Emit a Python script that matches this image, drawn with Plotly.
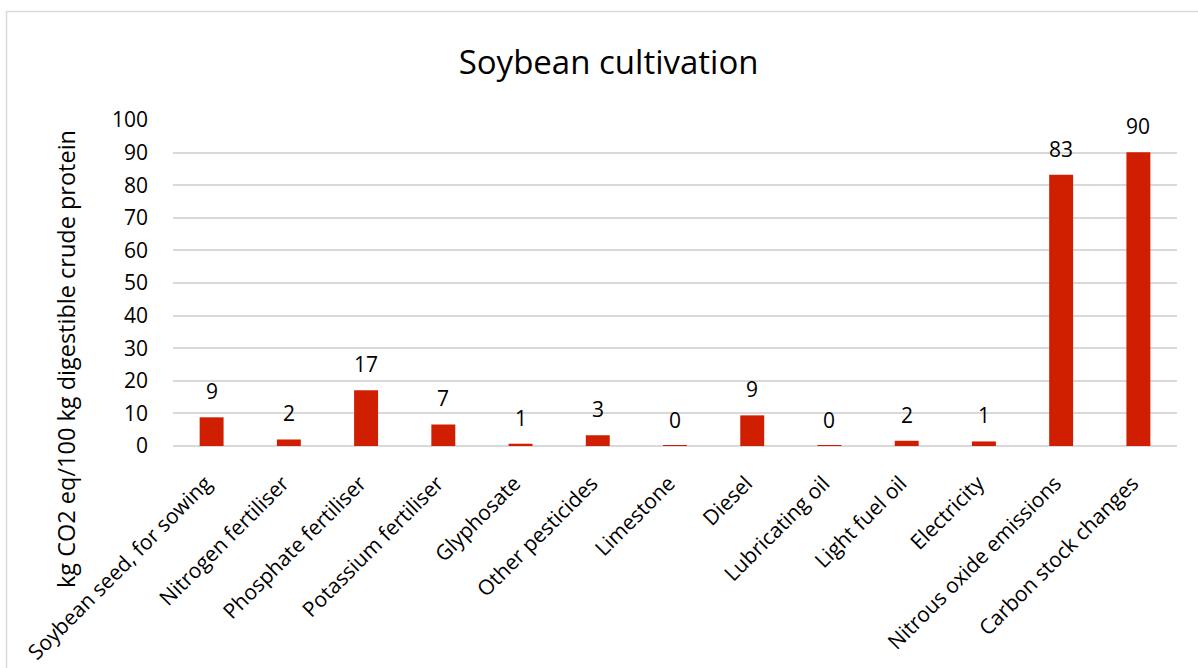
import plotly.graph_objects as go

# Emission sources for soybean cultivation
categories = [
    "Soybean seed, for sowing",
    "Nitrogen fertiliser",
    "Phosphate fertiliser",
    "Potassium fertiliser",
    "Glyphosate",
    "Other pesticides",
    "Limestone",
    "Diesel",
    "Lubricating oil",
    "Light fuel oil",
    "Electricity",
    "Nitrous oxide emissions",
    "Carbon stock changes",
]
# kg CO2 eq per 100 kg digestible crude protein
values = [8.8, 2.0, 17.1, 6.6, 0.7, 3.3, 0.1, 9.4, 0.1, 1.6, 1.4, 83.2, 90.1]
y_ticks = [0, 10, 20, 30, 40, 50, 60, 70, 80, 90, 100]

FONT = "Open Sans"
BAR = "#D01F00"
GRID = "#D9D9D9"

W, H = 1198, 668
ML, MR, MT, MB = 173, 21, 120, 222
PW, PH = W - ML - MR, H - MT - MB


def px_x(p):
    return (p - ML) / PW


def px_y(p):
    return (H - MB - p) / PH


fig = go.Figure(
    go.Bar(
        x=categories,
        y=values,
        marker=dict(color=BAR, line=dict(width=0)),
        hovertemplate="%{x}: %{y}<extra></extra>",
    )
)

# value labels above each bar
for c, v in zip(categories, values):
    fig.add_annotation(
        x=c, y=v, text=f"{v:.0f}", showarrow=False,
        xanchor="center", yanchor="middle", yshift=26,
        font=dict(family=FONT, size=21, color="#000000"),
    )

# rotated y-axis caption
fig.add_annotation(
    xref="paper", yref="paper",
    x=px_x(66), y=px_y(359),
    xanchor="center", yanchor="middle",
    text="kg CO2 eq/100 kg digestible crude protein",
    textangle=-90, showarrow=False,
    font=dict(family=FONT, size=23.5, color="#000000"),
)

# chart area frame
fig.add_shape(
    type="rect", xref="paper", yref="paper",
    x0=px_x(6.5), x1=px_x(1210), y0=px_y(680), y1=px_y(11.5),
    line=dict(color=GRID, width=1.5), fillcolor="rgba(0,0,0,0)", layer="below",
)

fig.update_layout(
    width=W, height=H,
    margin=dict(l=ML, r=MR, t=MT, b=MB, autoexpand=False),
    paper_bgcolor="#FFFFFF",
    plot_bgcolor="#FFFFFF",
    bargap=0.69,
    showlegend=False,
    title=dict(
        text="Soybean cultivation",
        x=0.508, xref="container", xanchor="center",
        y=1 - 62 / H, yref="container", yanchor="middle",
        font=dict(family=FONT, size=33, color="#000000"),
    ),
    xaxis=dict(
        tickangle=-45,
        tickfont=dict(family=FONT, size=21, color="#000000"),
        showgrid=False,
        showline=False,
        ticks="",
        ticklabelshift=-6,
        ticklabelstandoff=20,
    ),
    yaxis=dict(
        range=[0, 100],
        tickvals=y_ticks,
        tickfont=dict(family=FONT, size=21, color="#000000"),
        showgrid=True,
        gridcolor=GRID,
        gridwidth=2,
        zeroline=True,
        zerolinecolor=GRID,
        zerolinewidth=2,
        showline=False,
        ticks="",
        ticklabelstandoff=24,
    ),
    font=dict(family=FONT, color="#000000"),
)

fig.write_html("out.html")
